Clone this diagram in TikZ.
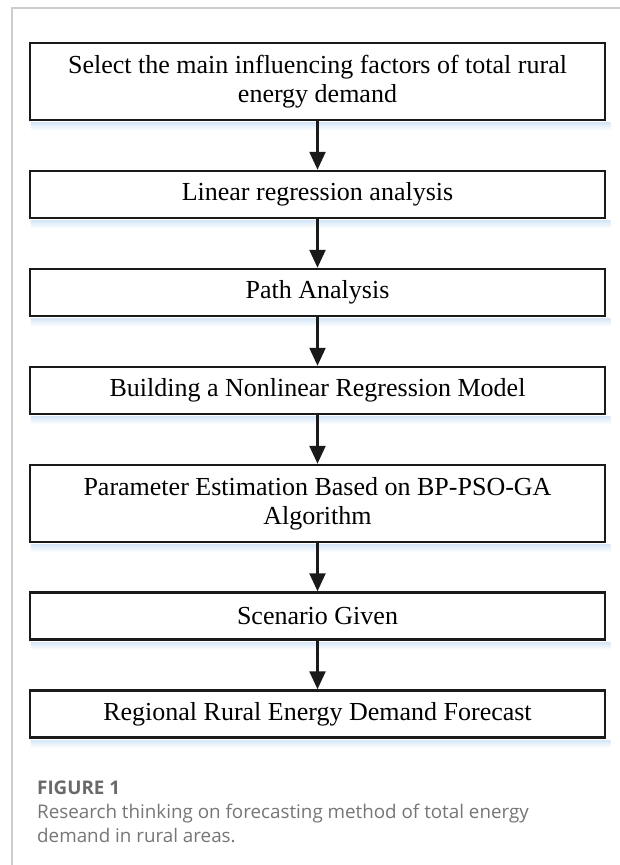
\documentclass[tikz,border=0pt]{standalone}
\usepackage{fontspec}
\setmainfont{Liberation Serif}
\newfontfamily\capfont{Open Sans}
\usetikzlibrary{arrows.meta}
\definecolor{framegray}{RGB}{205,205,205}
\definecolor{shadowblue}{RGB}{214,231,247}
\definecolor{boxline}{RGB}{26,26,26}
\definecolor{capgray}{RGB}{118,118,118}
\definecolor{figgray}{RGB}{105,105,105}
\tikzset{
  stepbox/.style={draw=boxline, line width=2.5pt, rectangle, minimum width=575pt,
    align=center, inner sep=0pt, font=\fontsize{26}{29}\selectfont, text=black},
  flowarrow/.style={draw=boxline, line width=2.5pt, -{Triangle[width=16pt,length=18pt]}},
  captext/.style={anchor=base west, inner sep=0pt, text=capgray, font=\capfont\fontsize{18.8}{24}\selectfont}
}
\begin{document}
\begin{tikzpicture}[x=1pt,y=-1pt]
\useasboundingbox (0,0) rectangle (620,865);
\fill[white] (0,0) rectangle (620,865);
% page frame
\draw[framegray, line width=1.5pt] (12,865) -- (12,8) -- (620,8);
% boxes
\node[stepbox, minimum height=77pt] (b1) at (317.5,81.5) {Select the main influencing factors of total rural\\energy demand};
\node[stepbox, minimum height=47pt] (b2) at (317.5,194.5) {Linear regression analysis};
\node[stepbox, minimum height=47pt] (b3) at (317.5,292.5) {Path Analysis};
\node[stepbox, minimum height=47pt] (b4) at (317.5,390.5) {Building a Nonlinear Regression Model};
\node[stepbox, minimum height=77pt] (b5) at (317.5,503.5) {Parameter Estimation Based on BP-PSO-GA\\Algorithm};
\node[stepbox, minimum height=47pt] (b6) at (317.5,616) {Scenario Given};
\node[stepbox, minimum height=47pt] (b7) at (317.5,714) {Regional Rural Energy Demand Forecast};
% soft shadows
\foreach \n in {b1,b2,b3,b4,b5,b6,b7}{
  \shade[top color=shadowblue, bottom color=white]
    ([xshift=2pt,yshift=-1.3pt]\n.south west) rectangle ([xshift=4pt,yshift=-9pt]\n.south east);
}
% arrows
\draw[flowarrow] (b1) -- (b2);
\draw[flowarrow] (b2) -- (b3);
\draw[flowarrow] (b3) -- (b4);
\draw[flowarrow] (b4) -- (b5);
\draw[flowarrow] (b5) -- (b6);
\draw[flowarrow] (b6) -- (b7);
% caption
\node[captext, font=\capfont\bfseries\fontsize{18.8}{24}\selectfont, text=figgray] (fig) at (37,794) {FIGURE 1};
\node[captext] (cap1) at (37,818) {Research thinking on forecasting method of total energy};
\node[captext] (cap2) at (37,842) {demand in rural areas.};
\end{tikzpicture}
\end{document}
